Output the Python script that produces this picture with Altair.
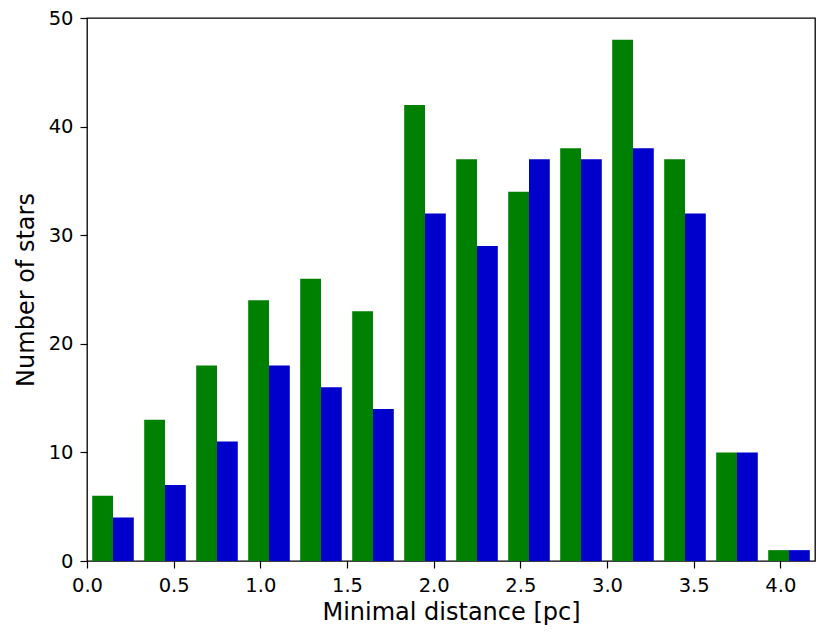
import altair as alt
import pandas as pd

bin_edges = [0.0, 0.3, 0.6, 0.9, 1.2, 1.5, 1.8, 2.1, 2.4, 2.7, 3.0, 3.3, 3.6, 3.9]
green_counts = [6, 13, 18, 24, 26, 23, 42, 37, 34, 38, 48, 37, 10, 1]
blue_counts = [4, 7, 11, 18, 16, 14, 32, 29, 37, 37, 38, 32, 10, 1]
bin_width = 0.3
x_ticks = [0.0, 0.5, 1.0, 1.5, 2.0, 2.5, 3.0, 3.5, 4.0]
y_ticks = [0, 10, 20, 30, 40, 50]

# matplotlib-style side-by-side histogram: 80% of the bin, split in two
bar_w = bin_width * 0.8 / 2
start_off = bin_width * 0.1
rows = []
for e, g, b in zip(bin_edges, green_counts, blue_counts):
    rows.append({"x": e + start_off, "x2": e + start_off + bar_w, "n": g, "base": 0, "s": "green"})
    rows.append({"x": e + start_off + bar_w, "x2": e + start_off + 2 * bar_w, "n": b, "base": 0, "s": "blue"})
df = pd.DataFrame(rows)

font = "DejaVu Sans"

chart = alt.Chart(df).mark_bar(strokeWidth=0).encode(
    x=alt.X("x:Q",
            scale=alt.Scale(domain=[0, 4.2], nice=False, zero=False),
            axis=alt.Axis(values=x_ticks, format=".1f", title="Minimal distance [pc]",
                          grid=False, domain=False, tickColor="black", tickSize=7,
                          tickWidth=1.2, labelFont=font, labelFontSize=19.5, labelColor="black",
                          labelPadding=8, titleFont=font, titleFontSize=24,
                          titleFontWeight="normal", titleColor="black", titlePadding=6,
                          labelFlush=False)),
    x2="x2:Q",
    y=alt.Y("n:Q",
            scale=alt.Scale(domain=[0, 50], nice=False),
            axis=alt.Axis(values=y_ticks, title="Number of stars",
                          grid=False, domain=False, tickColor="black", tickSize=7,
                          tickWidth=1.2, labelFont=font, labelFontSize=19.5, labelColor="black",
                          labelPadding=7, titleFont=font, titleFontSize=24,
                          titleFontWeight="normal", titleColor="black", titlePadding=10,
                          labelFlush=False)),
    y2="base:Q",
    color=alt.Color("s:N", scale=alt.Scale(domain=["green", "blue"],
                                           range=["#008000", "#0000cd"]), legend=None),
).properties(
    width=728,
    height=543,
    autosize=alt.AutoSizeParams(type="none"),
    padding={"left": 79, "top": 10, "right": 7, "bottom": 73},
).configure_view(
    stroke="black", strokeWidth=1.3
)

chart.save("out.html", embed_options={"renderer": "svg", "actions": False})
